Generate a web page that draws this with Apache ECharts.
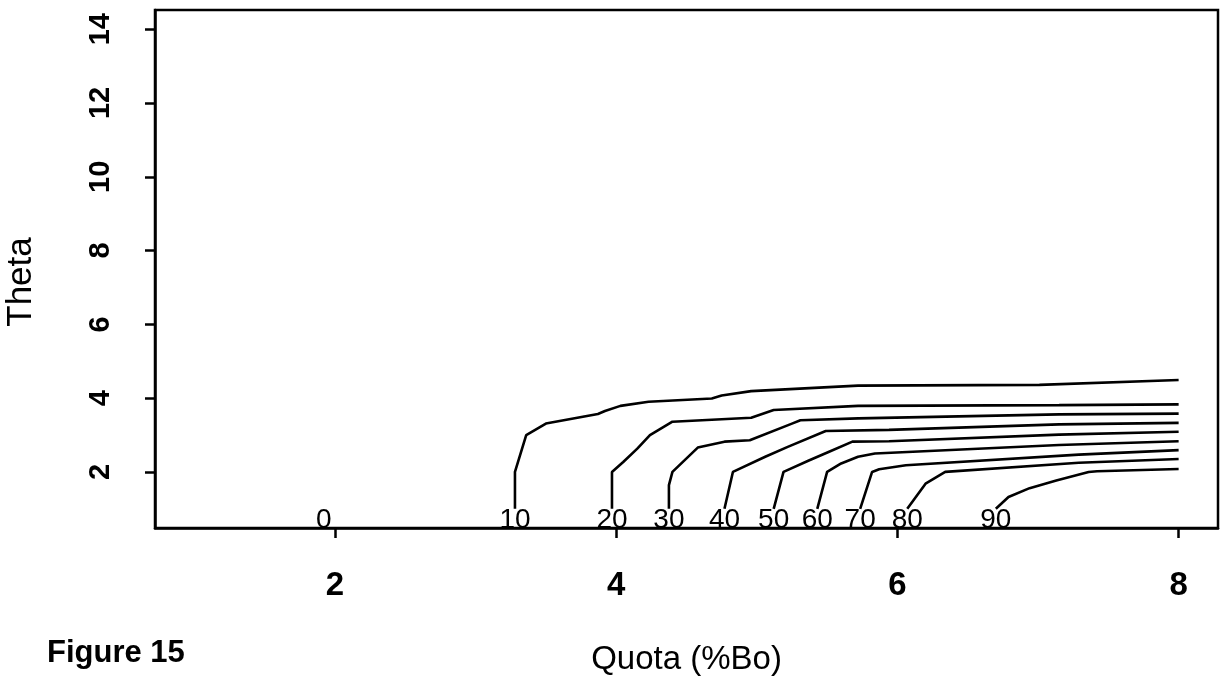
<!DOCTYPE html>
<html>
<head>
<meta charset="utf-8">
<script src="https://cdn.jsdelivr.net/npm/echarts@6/dist/echarts.min.js"></script>
<style>
  html, body { margin: 0; padding: 0; background: #ffffff; }
  #chart { width: 1226px; height: 685px; }
</style>
</head>
<body>
<div id="chart"></div>
<script>
// Axis ranges and tick labels
const quotaRange = [0.72, 8.28];
const thetaRange = [0.48, 14.52];
const quotaTicks = [2, 4, 6, 8];
const thetaTicks = [2, 4, 6, 8, 10, 12, 14];

// Contour levels and their traced paths, [Quota, Theta] pairs, starting at the lower end
const levels = [0, 10, 20, 30, 40, 50, 60, 70, 80, 90];
const level0Label = [1.92, 1.0];
const contour10 = [[3.28, 1.0], [3.28, 2.0], [3.36, 3.0], [3.50, 3.31], [3.87, 3.57], [3.92, 3.65], [4.03, 3.79], [4.23, 3.90], [4.68, 3.99], [4.75, 4.07], [4.96, 4.19], [5.72, 4.34], [7.01, 4.36], [8.0, 4.49]];
const contour20 = [[3.97, 1.0], [3.97, 2.0], [4.05, 2.27], [4.15, 2.63], [4.24, 3.0], [4.40, 3.36], [4.96, 3.47], [5.12, 3.68], [5.72, 3.79], [7.15, 3.81], [8.0, 3.83]];
const contour30 = [[4.375, 1.0], [4.375, 1.64], [4.40, 2.0], [4.58, 2.66], [4.77, 2.82], [4.95, 2.86], [5.25, 3.31], [5.31, 3.40], [5.72, 3.45], [7.15, 3.56], [8.0, 3.58]];
const contour40 = [[4.77, 1.0], [4.83, 2.0], [5.06, 2.41], [5.22, 2.68], [5.49, 3.11], [5.94, 3.14], [7.15, 3.29], [8.0, 3.33]];
const contour50 = [[5.12, 1.0], [5.19, 2.0], [5.37, 2.31], [5.51, 2.54], [5.68, 2.82], [5.94, 2.83], [7.15, 3.01], [8.0, 3.09]];
const contour60 = [[5.43, 1.0], [5.50, 2.0], [5.60, 2.23], [5.72, 2.41], [5.84, 2.50], [7.15, 2.73], [8.0, 2.83]];
const contour70 = [[5.735, 1.0], [5.82, 2.0], [5.87, 2.07], [6.06, 2.18], [7.29, 2.47], [8.0, 2.59]];
const contour80 = [[6.07, 1.0], [6.20, 1.68], [6.34, 2.0], [7.29, 2.25], [8.0, 2.35]];
const contour90 = [[6.70, 1.0], [6.79, 1.32], [6.94, 1.56], [7.13, 1.77], [7.36, 2.0], [7.42, 2.02], [8.0, 2.08]];

const contourPaths = [contour10, contour20, contour30, contour40, contour50, contour60, contour70, contour80, contour90];

const FONT = 'Liberation Sans, Arial, Helvetica, sans-serif';
const INK = '#000000';

const levelLabelStyle = {
  position: 'bottom',
  distance: -3,
  fontFamily: FONT,
  fontSize: 28,
  color: INK,
  opacity: 1
};

// One line per contour level; the level is written at the line's lower end
const contourSeries = contourPaths.map((path, i) => ({
  type: 'line',
  name: String(levels[i + 1]),
  data: path.map((p, j) => j === 0
    ? { value: p, label: { show: true, formatter: String(levels[i + 1]) } }
    : p),
  showSymbol: true,
  showAllSymbol: true,
  symbol: 'circle',
  symbolSize: 0.01,
  itemStyle: { color: 'rgba(0,0,0,0)', opacity: 1 },
  lineStyle: { color: INK, width: 2.6 },
  label: Object.assign({ show: false }, levelLabelStyle),
  silent: true,
  z: 3
}));

// The zero level has no visible path, only its label
const zeroSeries = {
  type: 'scatter',
  name: String(levels[0]),
  data: [{ value: level0Label, label: { show: true, formatter: String(levels[0]) } }],
  symbol: 'circle',
  symbolSize: 0.01,
  itemStyle: { color: 'rgba(0,0,0,0)', opacity: 1 },
  label: Object.assign({ show: false }, levelLabelStyle),
  silent: true,
  z: 3
};

const chart = echarts.init(document.getElementById('chart'), null, { renderer: 'canvas' });

chart.setOption({
  animation: false,
  backgroundColor: '#ffffff',
  title: {
    text: 'Figure 15',
    left: 42,
    top: 633,
    textStyle: { fontFamily: FONT, fontSize: 31, fontWeight: 'bold', color: INK }
  },
  grid: {
    left: 155,
    right: 8,
    top: 10,
    bottom: 157,
    show: true,
    borderColor: INK,
    borderWidth: 2.5,
    backgroundColor: 'rgba(0,0,0,0)',
    outerBoundsMode: 'none'
  },
  xAxis: {
    type: 'value',
    min: quotaRange[0],
    max: quotaRange[1],
    name: 'Quota (%Bo)',
    nameLocation: 'middle',
    nameGap: 115,
    nameTextStyle: { fontFamily: FONT, fontSize: 33, color: INK },
    axisLine: { show: true, lineStyle: { color: INK, width: 2.5 } },
    axisTick: { show: true, length: 10, inside: false, customValues: quotaTicks, lineStyle: { color: INK, width: 2.5 } },
    axisLabel: {
      show: true,
      customValues: quotaTicks,
      margin: 41,
      fontFamily: FONT,
      fontSize: 33,
      fontWeight: 'bold',
      color: INK
    },
    splitLine: { show: false }
  },
  yAxis: {
    type: 'value',
    min: thetaRange[0],
    max: thetaRange[1],
    name: 'Theta',
    nameLocation: 'middle',
    nameGap: 116,
    nameTextStyle: { fontFamily: FONT, fontSize: 35, color: INK, padding: [0, 26, 0, 0] },
    axisLine: { show: true, lineStyle: { color: INK, width: 2.5 } },
    axisTick: { show: true, length: 10, inside: false, customValues: thetaTicks, lineStyle: { color: INK, width: 2.5 } },
    axisLabel: {
      show: true,
      customValues: thetaTicks,
      rotate: 90,
      margin: 40,
      fontFamily: FONT,
      fontSize: 29,
      fontWeight: 'bold',
      color: INK
    },
    splitLine: { show: false }
  },
  series: [zeroSeries].concat(contourSeries)
});
</script>
</body>
</html>
